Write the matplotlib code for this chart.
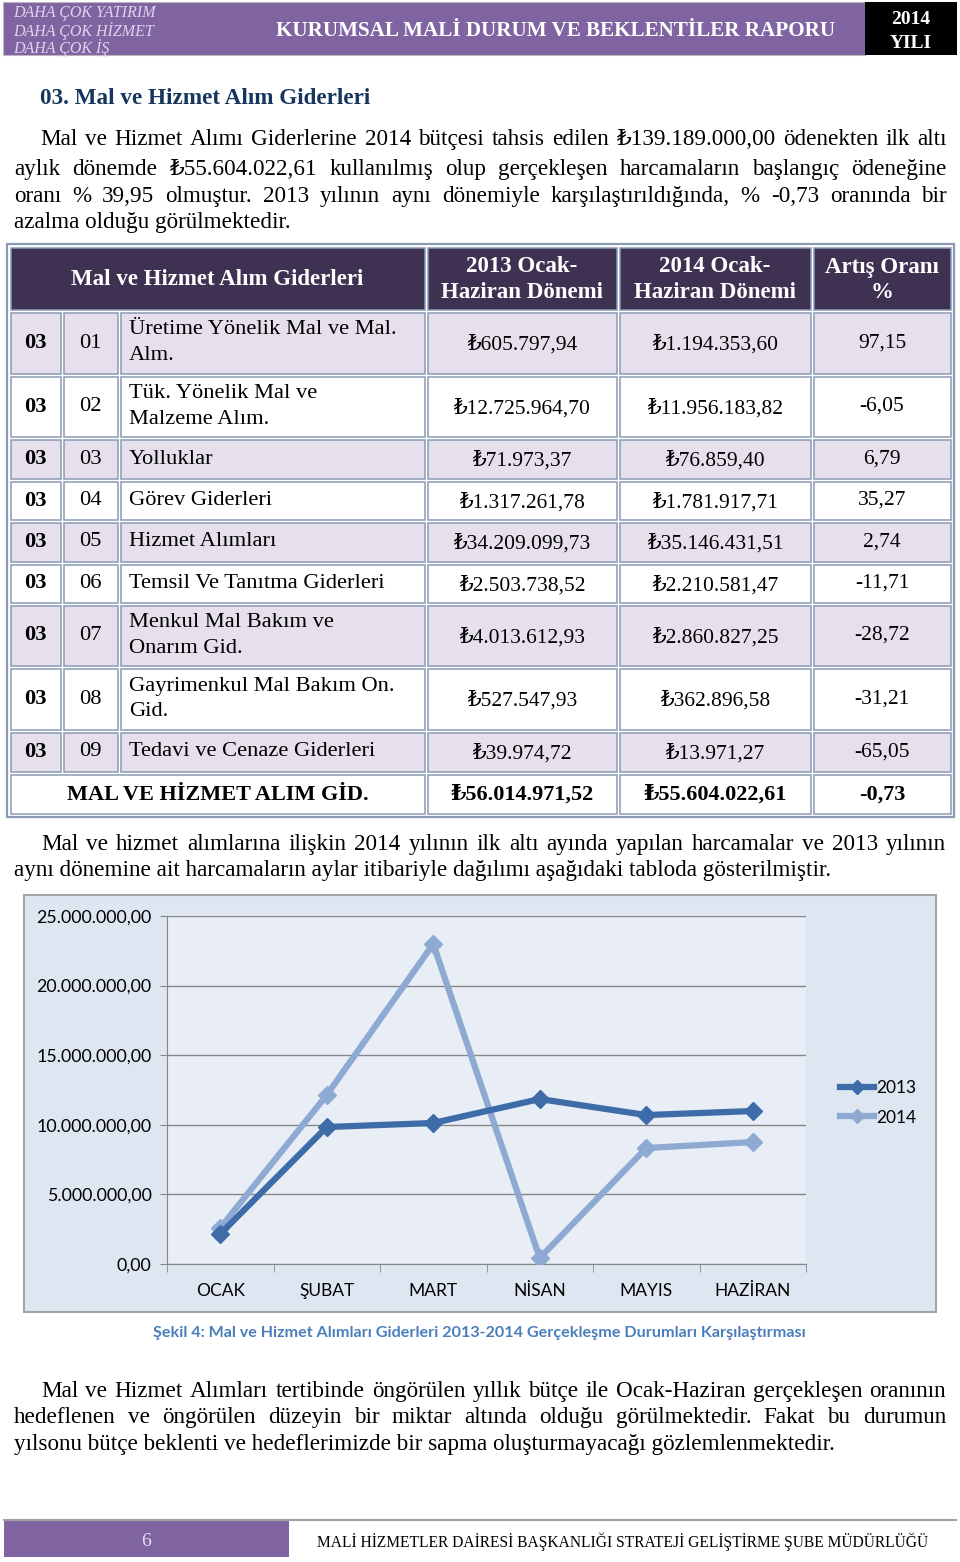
import matplotlib
matplotlib.use('Agg')
import matplotlib.pyplot as plt
from matplotlib.patches import Rectangle

SERIF = ['Liberation Serif', 'DejaVu Serif']
SANS = ['Lato', 'DejaVu Sans']

# grafik verileri (aylik harcamalar, TL)
aylar = ['OCAK', 'ŞUBAT', 'MART', 'NİSAN', 'MAYIS', 'HAZİRAN']
harcama_2013 = [2.16e6, 9.84e6, 10.13e6, 11.85e6, 10.70e6, 10.99e6]
harcama_2014 = [2.59e6, 12.14e6, 22.99e6, 0.43e6, 8.33e6, 8.76e6]
y_ticks = [0, 5e6, 10e6, 15e6, 20e6, 25e6]

# tablo verileri
kodlar = ['01', '02', '03', '04', '05', '06', '07', '08', '09']
kalemler = ['Üretime Yönelik Mal ve Mal.\nAlm.', 'Tük. Yönelik Mal ve\nMalzeme Alım.',
            'Yolluklar', 'Görev Giderleri', 'Hizmet Alımları',
            'Temsil Ve Tanıtma Giderleri', 'Menkul Mal Bakım ve\nOnarım Gid.',
            'Gayrimenkul Mal Bakım On.\nGid.', 'Tedavi ve Cenaze Giderleri']
donem_2013 = ['₺605.797,94', '₺12.725.964,70', '₺71.973,37', '₺1.317.261,78',
              '₺34.209.099,73', '₺2.503.738,52', '₺4.013.612,93', '₺527.547,93',
              '₺39.974,72']
donem_2014 = ['₺1.194.353,60', '₺11.956.183,82', '₺76.859,40', '₺1.781.917,71',
              '₺35.146.431,51', '₺2.210.581,47', '₺2.860.827,25', '₺362.896,58',
              '₺13.971,27']
artis = ['97,15', '-6,05', '6,79', '35,27', '2,74', '-11,71', '-28,72', '-31,21', '-65,05']
toplam = ['MAL VE HİZMET ALIM GİD.', '₺56.014.971,52', '₺55.604.022,61', '-0,73']
basliklar = ['Mal ve Hizmet Alım Giderleri', '2013 Ocak-\nHaziran Dönemi',
             '2014 Ocak-\nHaziran Dönemi', 'Artış Oranı\n%']

W, H = 960, 1562
fig = plt.figure(figsize=(W / 100, H / 100), dpi=100)
pg = fig.add_axes([0, 0, 1, 1], zorder=0)
pg.set_xlim(0, W)
pg.set_ylim(H, 0)
pg.axis('off')
rend = fig.canvas.get_renderer()

PURPLE = '#8064a2'
FS = 16.7   # govde metni
TS = 16.2   # tablo metni


def tl(v):
    s = f'{v:,.2f}'
    return s.replace(',', 'X').replace('.', ',').replace('X', '.')


def satir(text, x0, x1, y, size=FS, justify=True, **kw):
    if not justify:
        pg.text(x0, y, text, fontsize=size, family=SERIF, va='center_baseline', **kw)
        return
    words = text.split(' ')
    objs = [pg.text(x0, y, w, fontsize=size, family=SERIF, va='center_baseline', **kw)
            for w in words]
    widths = [o.get_window_extent(rend).width for o in objs]
    gap = (x1 - x0 - sum(widths)) / (len(words) - 1)
    x = x0
    for o, w in zip(objs, widths):
        o.set_x(x)
        x += w + gap


# ---- ust baslik ----
pg.add_patch(Rectangle((3, 2), 862, 53, facecolor=PURPLE, edgecolor='#b8b8b8', lw=0.8))
pg.add_patch(Rectangle((865, 2), 92, 53, facecolor='black', edgecolor='none'))
for i, s in enumerate(['DAHA ÇOK YATIRIM', 'DAHA ÇOK HİZMET', 'DAHA ÇOK İŞ']):
    pg.text(13, 11 + 17.5 * i, s, fontsize=11.5, family=SERIF, style='italic',
            color='#ddd5ec', va='center_baseline')
pg.text(556, 29, 'KURUMSAL MALİ DURUM VE BEKLENTİLER RAPORU', fontsize=15.2, family=SERIF,
        weight='bold', color='white', ha='center', va='center_baseline')
pg.text(911, 17, '2014', fontsize=14, family=SERIF, weight='bold', color='white',
        ha='center', va='center_baseline')
pg.text(911, 41, 'YILI', fontsize=14, family=SERIF, weight='bold', color='white',
        ha='center', va='center_baseline')

# ---- metin ----
pg.text(40, 96, '03. Mal ve Hizmet Alım Giderleri', fontsize=16.7, family=SERIF,
        weight='bold', color='#17365d', va='center_baseline')
satir('Mal ve Hizmet Alımı Giderlerine 2014 bütçesi tahsis edilen ₺139.189.000,00 ödenekten ilk altı',
      40, 947, 137)
satir('aylık dönemde ₺55.604.022,61 kullanılmış olup gerçekleşen harcamaların başlangıç ödeneğine',
      14, 947, 167)
satir('oranı % 39,95 olmuştur. 2013 yılının aynı dönemiyle karşılaştırıldığında, % -0,73 oranında bir',
      14, 947, 194)
satir('azalma olduğu görülmektedir.', 14, 947, 220, justify=False)

# ---- tablo ----
row_y = [246, 311, 375, 438, 480, 521, 563, 604, 667, 731, 773, 815]
col_x = [9, 62, 119, 426, 618, 812, 952]
EDGE = '#8a9ab3'
pg.add_patch(Rectangle((7, 244), 947, 573, facecolor='white', edgecolor=EDGE, lw=1.6))


def hucre(x0, x1, y0, y1, fc):
    pg.add_patch(Rectangle((x0 + 1.5, y0 + 1.5), x1 - x0 - 3, y1 - y0 - 3,
                           facecolor=fc, edgecolor=EDGE, lw=1.1))


HDR = '#3f3151'
hucre(col_x[0], col_x[3], row_y[0], row_y[1], HDR)
for j in range(3, 6):
    hucre(col_x[j], col_x[j + 1], row_y[0], row_y[1], HDR)
hx = [(col_x[0] + col_x[3]) / 2] + [(col_x[j] + col_x[j + 1]) / 2 for j in range(3, 6)]
for x, s in zip(hx, basliklar):
    pg.text(x, (row_y[0] + row_y[1]) / 2 + 1, s, fontsize=16.5, family=SERIF, weight='bold',
            color='white', ha='center', va='center', linespacing=1.25)

for i in range(9):
    y0, y1 = row_y[i + 1], row_y[i + 2]
    fc = '#e5e0ec' if i % 2 == 0 else 'white'
    for j in range(6):
        hucre(col_x[j], col_x[j + 1], y0, y1, fc)
    yc = (y0 + y1) / 2
    pg.text((col_x[0] + col_x[1]) / 2, yc, '03', fontsize=TS, family=SERIF,
            weight='bold', ha='center', va='center')
    pg.text((col_x[1] + col_x[2]) / 2, yc, kodlar[i], fontsize=TS, family=SERIF,
            ha='center', va='center')
    pg.text(col_x[2] + 10, yc, kalemler[i], fontsize=TS, family=SERIF,
            ha='left', va='center', linespacing=1.5)
    for j, s in zip([3, 4, 5], [donem_2013[i], donem_2014[i], artis[i]]):
        pg.text((col_x[j] + col_x[j + 1]) / 2, yc + 2 if j < 5 else yc, s, fontsize=15.5,
                family=SERIF, ha='center', va='center')

y0, y1 = row_y[10], row_y[11]
hucre(col_x[0], col_x[3], y0, y1, 'white')
for j in range(3, 6):
    hucre(col_x[j], col_x[j + 1], y0, y1, 'white')
for x, s in zip(hx, toplam):
    pg.text(x, (y0 + y1) / 2 + 1, s, fontsize=16, family=SERIF, weight='bold',
            ha='center', va='center')

# ---- ikinci paragraf ----
satir('Mal ve hizmet alımlarına ilişkin 2014 yılının ilk altı ayında yapılan harcamalar ve 2013 yılının',
      41, 946, 842)
satir('aynı dönemine ait harcamaların aylar itibariyle dağılımı aşağıdaki tabloda gösterilmiştir.',
      14, 946, 868, justify=False)

# ---- grafik ----
pg.add_patch(Rectangle((24, 895), 912, 417, facecolor='#dde6f1', edgecolor='#a3a3a3', lw=1.5))
ax = fig.add_axes([167 / W, 1 - 1264 / H, (806 - 167) / W, (1264 - 916) / H], zorder=1)
ax.set_facecolor('#e9eef6')
x = list(range(len(aylar)))
ax.plot(x, harcama_2013, color='#3e6ca8', lw=4.5, marker='D', ms=9, label='2013',
        solid_joinstyle='round', zorder=4)
ax.plot(x, harcama_2014, color='#8eaad3', lw=4.5, marker='D', ms=9, label='2014',
        solid_joinstyle='round', zorder=3)
ax.set_xlim(-0.5, 5.5)
ax.set_ylim(0, 25e6)
ax.set_yticks(y_ticks)
ax.set_yticklabels([tl(v) for v in y_ticks], family=SANS, fontsize=12.8)
ax.set_xticks(x)
ax.set_xticklabels(aylar, family=SANS, fontsize=12.5)
ax.set_xticks([i - 0.5 for i in range(7)], minor=True)
ax.tick_params(axis='x', which='major', length=0, pad=14)
ax.tick_params(axis='x', which='minor', length=6, color='#868686')
ax.tick_params(axis='y', length=5, color='#868686', pad=6)
ax.grid(axis='y', color='#868686', lw=1)
ax.set_axisbelow(True)
for s in ['top', 'right']:
    ax.spines[s].set_visible(False)
for s in ['left', 'bottom']:
    ax.spines[s].set_color('#868686')
ax.legend(loc='center left', bbox_to_anchor=(824 / W, 1 - 1103 / H), bbox_transform=fig.transFigure,
          frameon=False, prop={'family': SANS, 'size': 12.5}, handlelength=2.0,
          handletextpad=0.1, labelspacing=0.75, markerscale=0.8)

pg.text(479, 1332, 'Şekil 4: Mal ve Hizmet Alımları Giderleri 2013-2014 Gerçekleşme Durumları Karşılaştırması',
        fontsize=11.6, family=SANS, weight='bold', color='#4a7ebb', ha='center',
        va='center_baseline')

# ---- ucuncu paragraf ----
satir('Mal ve Hizmet Alımları tertibinde öngörülen yıllık bütçe ile Ocak-Haziran gerçekleşen oranının',
      41, 946, 1389)
satir('hedeflenen ve öngörülen düzeyin bir miktar altında olduğu görülmektedir. Fakat bu durumun',
      14, 946, 1415)
satir('yılsonu bütçe beklenti ve hedeflerimizde bir sapma oluşturmayacağı gözlemlenmektedir.',
      14, 946, 1442, justify=False)

# ---- alt bilgi ----
pg.plot([4, 956], [1520, 1520], color='#a0a0a0', lw=1.5)
pg.add_patch(Rectangle((4, 1521), 285, 36, facecolor=PURPLE, edgecolor='none'))
pg.text(146, 1540, '6', fontsize=14, family=SERIF, color='#e6def2', ha='center',
        va='center_baseline')
pg.text(317, 1540, 'MALİ HİZMETLER DAİRESİ BAŞKANLIĞI STRATEJİ GELİŞTİRME ŞUBE MÜDÜRLÜĞÜ',
        fontsize=11.2, family=SERIF, va='center_baseline')

fig.savefig('out.png', dpi=100)
